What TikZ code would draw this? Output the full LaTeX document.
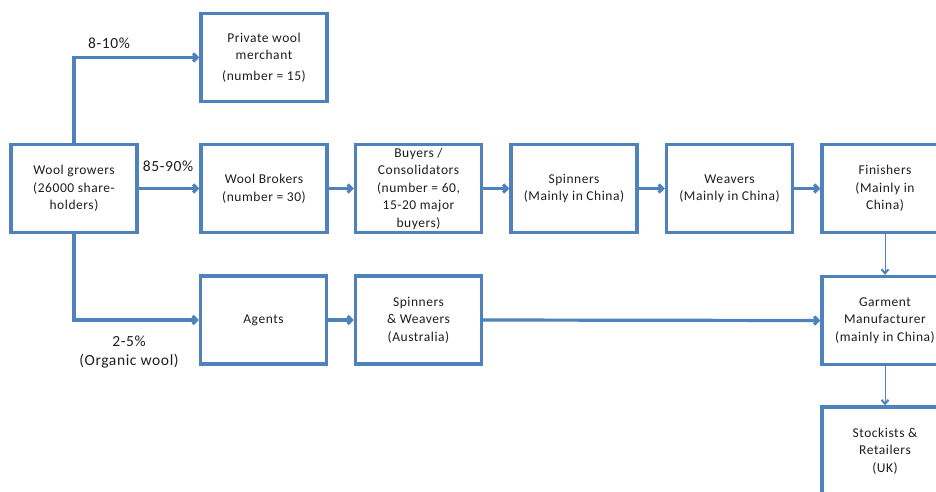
\documentclass[tikz,border=0pt]{standalone}
\usepackage{fontspec}
\setmainfont{Carlito}[LetterSpace=4]
\usetikzlibrary{arrows.meta}
\definecolor{flowblue}{RGB}{79,129,189}
\definecolor{inkgray}{RGB}{30,30,30}
\tikzset{
  stage/.style={draw=flowblue, line width=3.4pt, fill=white, minimum width=126pt,
    minimum height=88pt, inner sep=2pt, align=center, text=inkgray,
    font=\fontsize{13.5}{17.5}\selectfont},
  flow/.style={draw=flowblue, line width=3.2pt,
    -{Straight Barb[length=4pt,width=8pt]}},
  thinflow/.style={draw=flowblue, line width=1pt,
    -{Straight Barb[length=4pt,width=7pt,line width=2pt]}},
  share/.style={text=inkgray, font=\fontsize{15.5}{18.5}\selectfont, align=center}
}
\begin{document}
\begin{tikzpicture}[x=1pt,y=-1pt]
\useasboundingbox (0,0) rectangle (936,491);
\clip (0,0) rectangle (936,491);

% stages of the supply chain
\node[stage] (grow)  at (74,188.5)  {Wool growers\\(26000 share-\\holders)};
\node[stage] (merch) at (264,57.5)  {Private wool\\merchant\\[3pt](number = 15)};
\node[stage] (brok)  at (264,188.5) {Wool Brokers\\(number = 30)};
\node[stage] (buy)   at (418.5,188.5) {Buyers /\\Consolidators\\(number = 60,\\15-20 major\\buyers)};
\node[stage] (spin)  at (574,188.5) {Spinners\\(Mainly in China)};
\node[stage] (weav)  at (729.5,188.5) {Weavers\\(Mainly in China)};
\node[stage] (fin)   at (885,188.5) {Finishers\\(Mainly in\\China)};
\node[stage] (agent) at (263.5,320) {Agents};
\node[stage] (sw)    at (418.5,320) {Spinners\\\& Weavers\\(Australia)};
\node[stage] (garm)  at (885,320.5) {Garment\\Manufacturer\\(mainly in China)};
\node[stage] (stock) at (885,451)   {Stockists \&\\Retailers\\(UK)};

% flows between stages
\draw[flow] (grow.north) |- (merch.west);
\draw[flow] (grow.east) -- (brok.west);
\draw[flow] (grow.south) |- (agent.west);
\draw[flow] (brok.east) -- (buy.west);
\draw[flow] (buy.east) -- (spin.west);
\draw[flow] (spin.east) -- (weav.west);
\draw[flow] (weav.east) -- (fin.west);
\draw[flow] (agent.east) -- (sw.west);
\draw[flow] (sw.east) -- (garm.west);
\draw[thinflow] (fin.south) -- (garm.north);
\draw[thinflow] (garm.south) -- (stock.north);

% market shares
\node[share] (s1) at (109,43)  {8-10\%};
\node[share] (s2) at (168,166) {85-90\%};
\node[share] (s3) at (129,352) {2-5\%\\(Organic wool)};
\end{tikzpicture}
\end{document}
